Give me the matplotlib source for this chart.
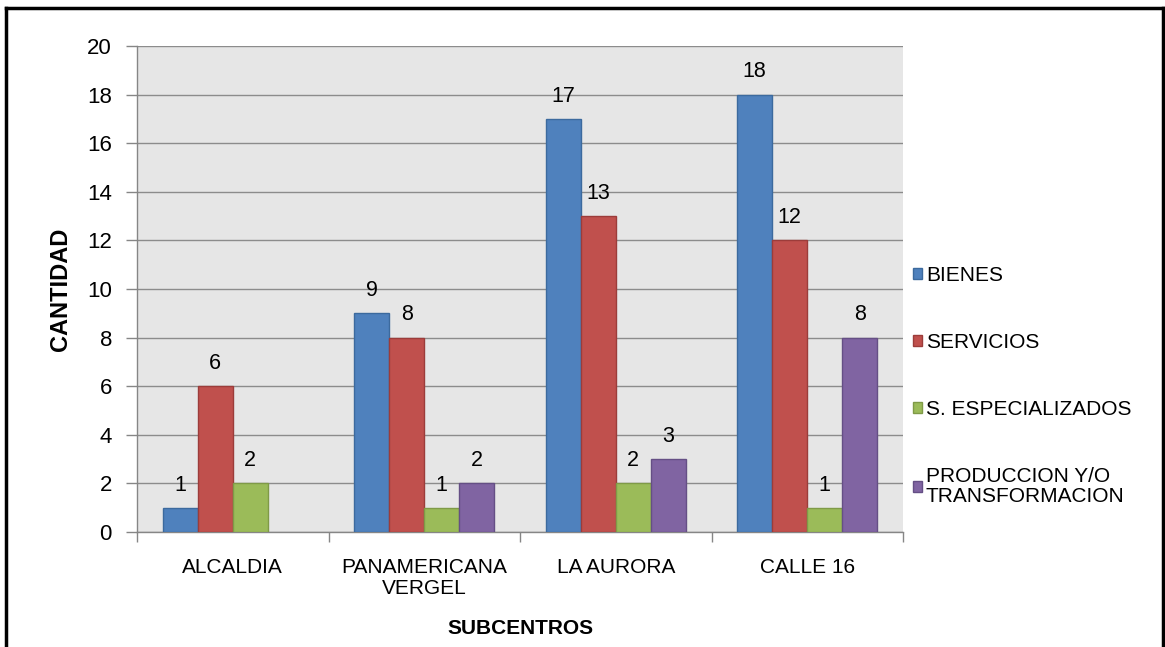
import matplotlib.pyplot as plt
from matplotlib.lines import Line2D
import numpy as np

plt.rcParams['font.family'] = ['Liberation Sans', 'DejaVu Sans']

categories = ["ALCALDIA", "PANAMERICANA\nVERGEL", "LA AURORA", "CALLE 16"]
series = ["BIENES", "SERVICIOS", "S. ESPECIALIZADOS", "PRODUCCION Y/O\nTRANSFORMACION"]
bienes = [1, 9, 17, 18]
servicios = [6, 8, 13, 12]
especializados = [2, 1, 2, 1]
produccion = [0, 2, 3, 8]

colors = ["#4f81bd", "#c0504d", "#9bbb59", "#8064a2"]
edges = ["#3c6a9e", "#9c3c3a", "#7f9a47", "#654f85"]

fig = plt.figure(figsize=(11.65, 6.47), dpi=100)
ax = fig.add_axes([137/1165, 1-532/647, (903-137)/1165, (532-46)/647])
ax.set_facecolor("#e6e6e6")

x = np.arange(len(categories))
w = 0.183
for i, vals in enumerate([bienes, servicios, especializados, produccion]):
    pos = x + (i - 1.5) * w
    h = [v if v > 0 else np.nan for v in vals]
    ax.bar(pos, h, width=w, color=colors[i], edgecolor=edges[i], linewidth=1,
           label=series[i], zorder=3)
    for p, v in zip(pos, vals):
        if v > 0:
            ax.text(p, v + 0.5, str(v), ha="center", va="bottom", fontsize=15.5, zorder=4)

ax.set_xlim(-0.5, 3.5)
ax.set_ylim(0, 20)
ax.set_yticks(range(0, 21, 2))
ax.yaxis.grid(True, color="#8c8c8c", linewidth=1, zorder=0)
ax.set_axisbelow(True)
ax.set_xticks(x)
ax.set_xticklabels(categories, fontsize=15, linespacing=1.1)
ax.set_xticks(np.arange(-0.5, 4, 1), minor=True)
ax.tick_params(axis="x", which="major", length=0, pad=19)
ax.tick_params(axis="x", which="minor", length=7, color="#868686", width=1)
ax.tick_params(axis="y", length=8, color="#868686", width=1, labelsize=16, pad=10)
for s in ["top", "right"]:
    ax.spines[s].set_visible(False)
for s in ["left", "bottom"]:
    ax.spines[s].set_color("#868686")
    ax.spines[s].set_linewidth(1)

ax.set_xlabel("SUBCENTROS", fontsize=15, fontweight="bold", labelpad=15)
ax.set_ylabel("CANTIDAD", fontsize=17, fontweight="bold", labelpad=11)

leg = ax.legend(loc="center left", bbox_to_anchor=(1.0, 0.30), frameon=False,
                fontsize=15, handlelength=0.4, handleheight=0.4, handletextpad=0.2,
                labelspacing=2.3, borderaxespad=0.3, borderpad=0.2)
for t in leg.get_texts():
    t.set_linespacing(1.1)

# outer frame (bottom edge cut off)
fig.add_artist(Line2D([6/1165, 6/1165], [0, 1-8/647], color="black", linewidth=2.5))
fig.add_artist(Line2D([6/1165, 1163/1165], [1-8/647, 1-8/647], color="black", linewidth=2.5))
fig.add_artist(Line2D([1163/1165, 1163/1165], [0, 1-8/647], color="black", linewidth=2.5))

fig.savefig("out.png", dpi=100)
